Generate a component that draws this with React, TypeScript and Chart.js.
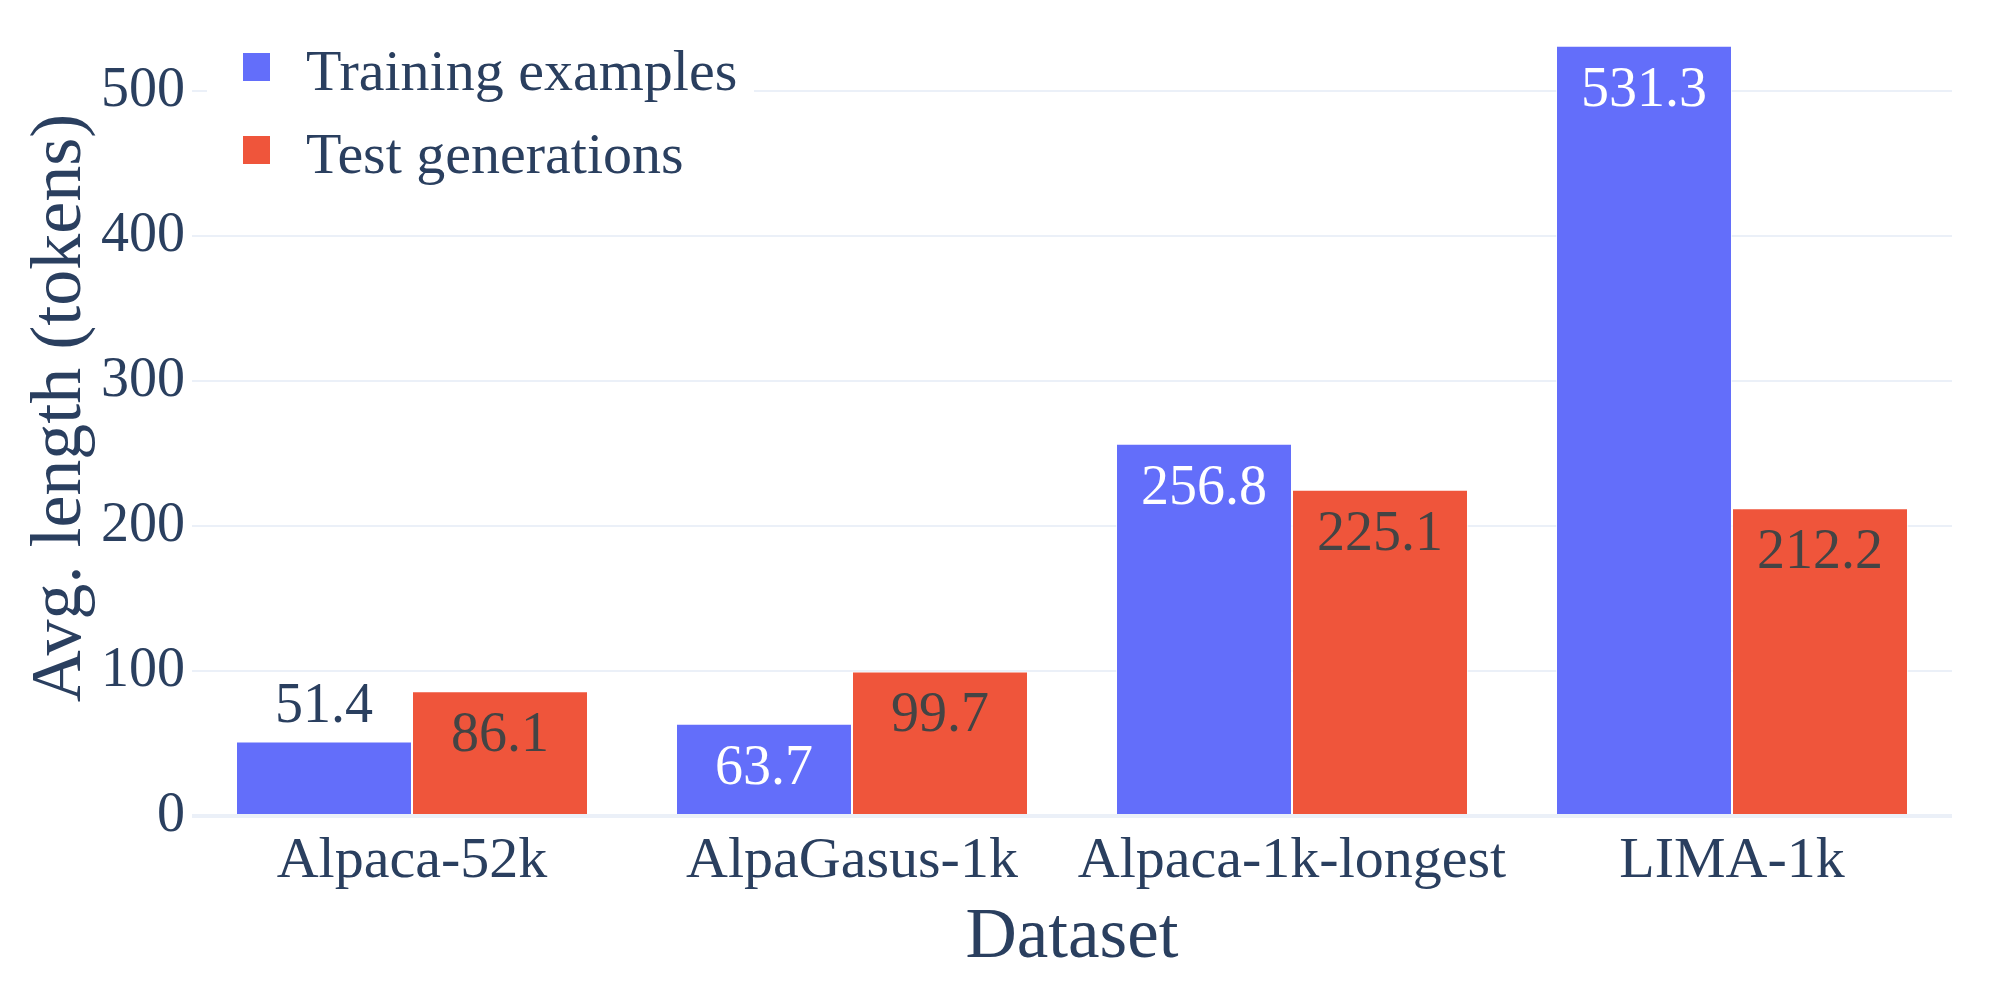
import { Chart, registerables } from 'chart.js';
import { useEffect, useRef } from 'react';

Chart.register(...registerables);

const categories = ['Alpaca-52k', 'AlpaGasus-1k', 'Alpaca-1k-longest', 'LIMA-1k'];
const trainingExamples = [51.4, 63.7, 256.8, 531.3];
const testGenerations = [86.1, 99.7, 225.1, 212.2];
const yTickValues = [0, 100, 200, 300, 400, 500];

const FONT = '"Liberation Serif", "Times New Roman", serif';
const TEXT = '#2a3f5f';
const GRID = '#ebf0f8';
const BLUE = '#636efa';
const RED = '#ef553b';

// value labels: inside the bar top when it fits, above it otherwise
const barLabels = {
  id: 'barLabels',
  afterDatasetsDraw(chart: Chart) {
    const ctx = chart.ctx;
    ctx.save();
    ctx.font = `56px ${FONT}`;
    ctx.textAlign = 'center';
    ctx.textBaseline = 'alphabetic';
    chart.data.datasets.forEach((ds, i) => {
      const meta = chart.getDatasetMeta(i);
      meta.data.forEach((bar: any, j) => {
        const v = ds.data[j] as number;
        const h = bar.base - bar.y;
        const txt = v.toFixed(1);
        if (h >= 85) {
          ctx.fillStyle = i === 0 ? '#ffffff' : '#444444';
          ctx.fillText(txt, bar.x, bar.y + 60);
        } else {
          ctx.fillStyle = TEXT;
          ctx.fillText(txt, bar.x, bar.y - 19);
        }
      });
    });
    ctx.restore();
  },
};

// legend drawn inside the plot, top left, on a white box
const insideLegend = {
  id: 'insideLegend',
  afterDatasetsDraw(chart: Chart) {
    const ctx = chart.ctx;
    const left = chart.chartArea.left;
    ctx.save();
    ctx.fillStyle = '#ffffff';
    ctx.fillRect(left + 15, 30, 547, 170);
    ctx.font = `58px ${FONT}`;
    ctx.textAlign = 'left';
    ctx.textBaseline = 'alphabetic';
    chart.data.datasets.forEach((ds, i) => {
      ctx.fillStyle = ds.backgroundColor as string;
      ctx.fillRect(left + 51, 53 + i * 83, 27, 28);
      ctx.fillStyle = TEXT;
      ctx.fillText(ds.label as string, left + 114, 90 + i * 83);
    });
    ctx.restore();
  },
};

export default function App() {
  const canvasRef = useRef<HTMLCanvasElement>(null);
  const chartRef = useRef<Chart | null>(null);

  useEffect(() => {
    const ctx = canvasRef.current!.getContext('2d');
    if (chartRef.current) chartRef.current.destroy();
    chartRef.current = new Chart(ctx!, {
      type: 'bar',
      data: {
        labels: categories,
        datasets: [
          {
            label: 'Training examples',
            data: trainingExamples,
            backgroundColor: BLUE,
            borderColor: 'rgba(255,255,255,0.7)',
            borderWidth: 1,
          },
          {
            label: 'Test generations',
            data: testGenerations,
            backgroundColor: RED,
            borderColor: 'rgba(255,255,255,0.7)',
            borderWidth: 1,
          },
        ],
      },
      options: {
        responsive: false,
        animation: false,
        layout: { padding: { left: 0, right: 47, top: 0, bottom: 0 } },
        datasets: {
          bar: { categoryPercentage: 0.8, barPercentage: 1.0 },
        },
        plugins: {
          legend: { display: false },
          tooltip: { enabled: false },
        },
        scales: {
          x: {
            grid: { display: false, drawTicks: false },
            border: { display: false },
            ticks: { color: TEXT, font: { family: FONT, size: 58 }, padding: 11, maxRotation: 0 },
            title: {
              display: true,
              text: 'Dataset',
              color: TEXT,
              font: { family: FONT, size: 71 },
              padding: { top: 0, bottom: 22 },
            },
            afterFit: (scale: any) => {
              scale.height = 187;
              scale.paddingLeft = 0;
              scale.paddingRight = 0;
            },
          },
          y: {
            min: 0,
            max: 562.8,
            grid: {
              color: GRID,
              drawTicks: false,
              lineWidth: (c: any) => (c.tick && c.tick.value === 0 ? 4 : 2),
            },
            border: { display: false },
            ticks: { color: TEXT, font: { family: FONT, size: 56 }, padding: 7 },
            afterBuildTicks: (scale: any) => {
              scale.ticks = yTickValues.map((v) => ({ value: v }));
            },
            title: {
              display: true,
              text: 'Avg. length (tokens)',
              color: TEXT,
              font: { family: FONT, size: 72 },
              padding: { top: 18, bottom: 0 },
            },
            afterFit: (scale: any) => {
              scale.width = 192;
              scale.paddingTop = 0;
              scale.paddingBottom = 0;
            },
          },
        },
      },
      plugins: [barLabels, insideLegend],
    });
    return () => {
      if (chartRef.current) chartRef.current.destroy();
    };
  }, []);

  return (
    <div style={{ position: 'fixed', top: 0, left: 0, width: 1999, height: 1003, background: '#fff' }}>
      <canvas ref={canvasRef} width="1999" height="1003" style={{ display: 'block' }}></canvas>
    </div>
  );
}
